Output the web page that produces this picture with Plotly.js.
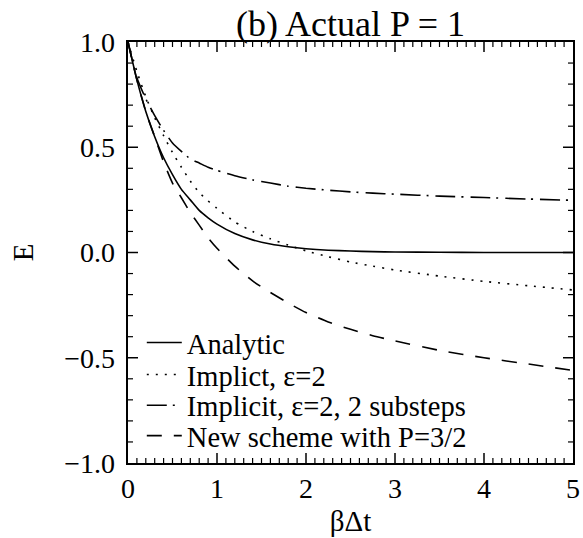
<!DOCTYPE html>
<html>
<head>
<meta charset="utf-8">
<script src="https://cdn.plot.ly/plotly-3.0.1.min.js"></script>
<style>
  html, body { margin: 0; padding: 0; background: #fff; }
  #chart { width: 583px; height: 538px; }
</style>
</head>
<body>
<div id="chart"></div>
<script>
// β·Δt sample positions
const bdt = [0, 0.1, 0.2, 0.3, 0.4, 0.5, 0.6, 0.7, 0.8, 0.9, 1.0, 1.2, 1.4, 1.6, 1.8, 2.0, 2.25, 2.5, 2.75, 3.0, 3.5, 4.0, 4.5, 5.0];

// Series values
const analytic = [1.00, 0.82, 0.67, 0.55, 0.45, 0.37, 0.30, 0.25, 0.20, 0.165, 0.135, 0.09, 0.06, 0.04, 0.027, 0.018, 0.011, 0.007, 0.004, 0.0025, 0.001, 0.0003, 0.0001, 0.00005];
const implicitEps2 = [1.00, 0.86, 0.74, 0.64, 0.555, 0.475, 0.405, 0.34, 0.285, 0.245, 0.21, 0.145, 0.10, 0.065, 0.035, 0.008, -0.02, -0.045, -0.065, -0.083, -0.112, -0.137, -0.158, -0.178];
const implicitSubsteps = [1.00, 0.83, 0.73, 0.65, 0.58, 0.52, 0.48, 0.445, 0.425, 0.405, 0.39, 0.365, 0.345, 0.33, 0.315, 0.305, 0.296, 0.288, 0.282, 0.277, 0.268, 0.261, 0.254, 0.248];
const newScheme = [1.00, 0.82, 0.67, 0.55, 0.43, 0.33, 0.26, 0.19, 0.13, 0.07, 0.02, -0.065, -0.135, -0.19, -0.24, -0.285, -0.33, -0.365, -0.395, -0.42, -0.465, -0.50, -0.53, -0.56];

const seriesNames = ["Analytic", "Implict, \u03B5=2", "Implicit, \u03B5=2, 2 substeps", "New scheme with P=3/2"];
const xTickVals = [0, 1, 2, 3, 4, 5];
const xTickText = ["0", "1", "2", "3", "4", "5"];
const yTickVals = [-1.0, -0.5, 0.0, 0.5, 1.0];
const yTickText = ["\u22121.0\u2009", "\u22120.5\u2009", "0.0\u2009", "0.5\u2009", "1.0\u2009"];

const FONT = "Liberation Serif";

const mk = (y, name, dash, leg) => ({
  x: bdt, y: y, name: name, type: "scatter", mode: "lines",
  line: { color: "black", width: 1.6, dash: dash, shape: "spline", smoothing: 0.6 },
  legend: leg,
  hoverinfo: "skip"
});

const data = [
  mk(analytic, seriesNames[0], "solid", "legend"),
  mk(implicitEps2, seriesNames[1], "2px,7px", "legend2"),
  mk(implicitSubsteps, seriesNames[2], "20px,6px,2px,7px", "legend3"),
  mk(newScheme, seriesNames[3], "15px,12px", "legend4")
];

// Inside tick marks on all four sides (axis decoration), built as pixel-sized shapes
const tickShapes = [];
function xTick(v, len, w) {
  tickShapes.push({ type: "line", xref: "x", yref: "paper", ysizemode: "pixel", yanchor: 0, x0: v, x1: v, y0: 0, y1: len, line: { color: "black", width: w } });
  tickShapes.push({ type: "line", xref: "x", yref: "paper", ysizemode: "pixel", yanchor: 1, x0: v, x1: v, y0: 0, y1: -len, line: { color: "black", width: w } });
}
function yTick(v, len, w) {
  tickShapes.push({ type: "line", xref: "paper", yref: "y", xsizemode: "pixel", xanchor: 0, x0: 0, x1: len, y0: v, y1: v, line: { color: "black", width: w } });
  tickShapes.push({ type: "line", xref: "paper", yref: "y", xsizemode: "pixel", xanchor: 1, x0: 0, x1: -len, y0: v, y1: v, line: { color: "black", width: w } });
}
for (let i = 1; i < 50; i++) {
  const v = i / 10;
  if (i % 10 === 0) xTick(v, 10, 1.5); else xTick(v, 5, 1.2);
}
for (let i = -9; i < 10; i++) {
  const v = i / 10;
  if (i % 5 === 0) yTick(v, 10, 1.5); else yTick(v, 5, 1.2);
}

const axisCommon = {
  showgrid: false, zeroline: false, showline: true, linecolor: "black", linewidth: 1.8,
  mirror: true, ticks: "",
  tickfont: { family: FONT, size: 28, color: "black" }
};

const legendBase = (yc) => ({
  x: 0.031, y: yc, xanchor: "left", yanchor: "middle",
  bgcolor: "rgba(0,0,0,0)", borderwidth: 0,
  font: { family: FONT, size: 28.5, color: "black" },
  itemwidth: 35
});

const layout = {
  width: 583, height: 538,
  margin: { l: 128, r: 10, t: 42, b: 75 },
  font: { family: FONT, color: "black" },
  title: { text: "(b) Actual P = 1", font: { family: FONT, size: 36, color: "black" }, x: 0.5, xref: "paper", xanchor: "center", y: 0.957, yanchor: "middle" },
  xaxis: Object.assign({}, axisCommon, {
    range: [0, 5], tickmode: "array", tickvals: xTickVals, ticktext: xTickText,
    title: { text: "\u03B2\u0394t", font: { family: FONT, size: 29, color: "black" }, standoff: 7 }
  }),
  yaxis: Object.assign({}, axisCommon, {
    range: [-1, 1], tickmode: "array", tickvals: yTickVals, ticktext: yTickText,
    title: { text: "E", font: { family: FONT, size: 29, color: "black" }, standoff: 22 }
  }),
  shapes: tickShapes,
  showlegend: true,
  legend: legendBase(0.285),
  legend2: legendBase(0.209),
  legend3: legendBase(0.136),
  legend4: legendBase(0.064)
};

Plotly.newPlot("chart", data, layout, { displayModeBar: false, staticPlot: true });
</script>
</body>
</html>
